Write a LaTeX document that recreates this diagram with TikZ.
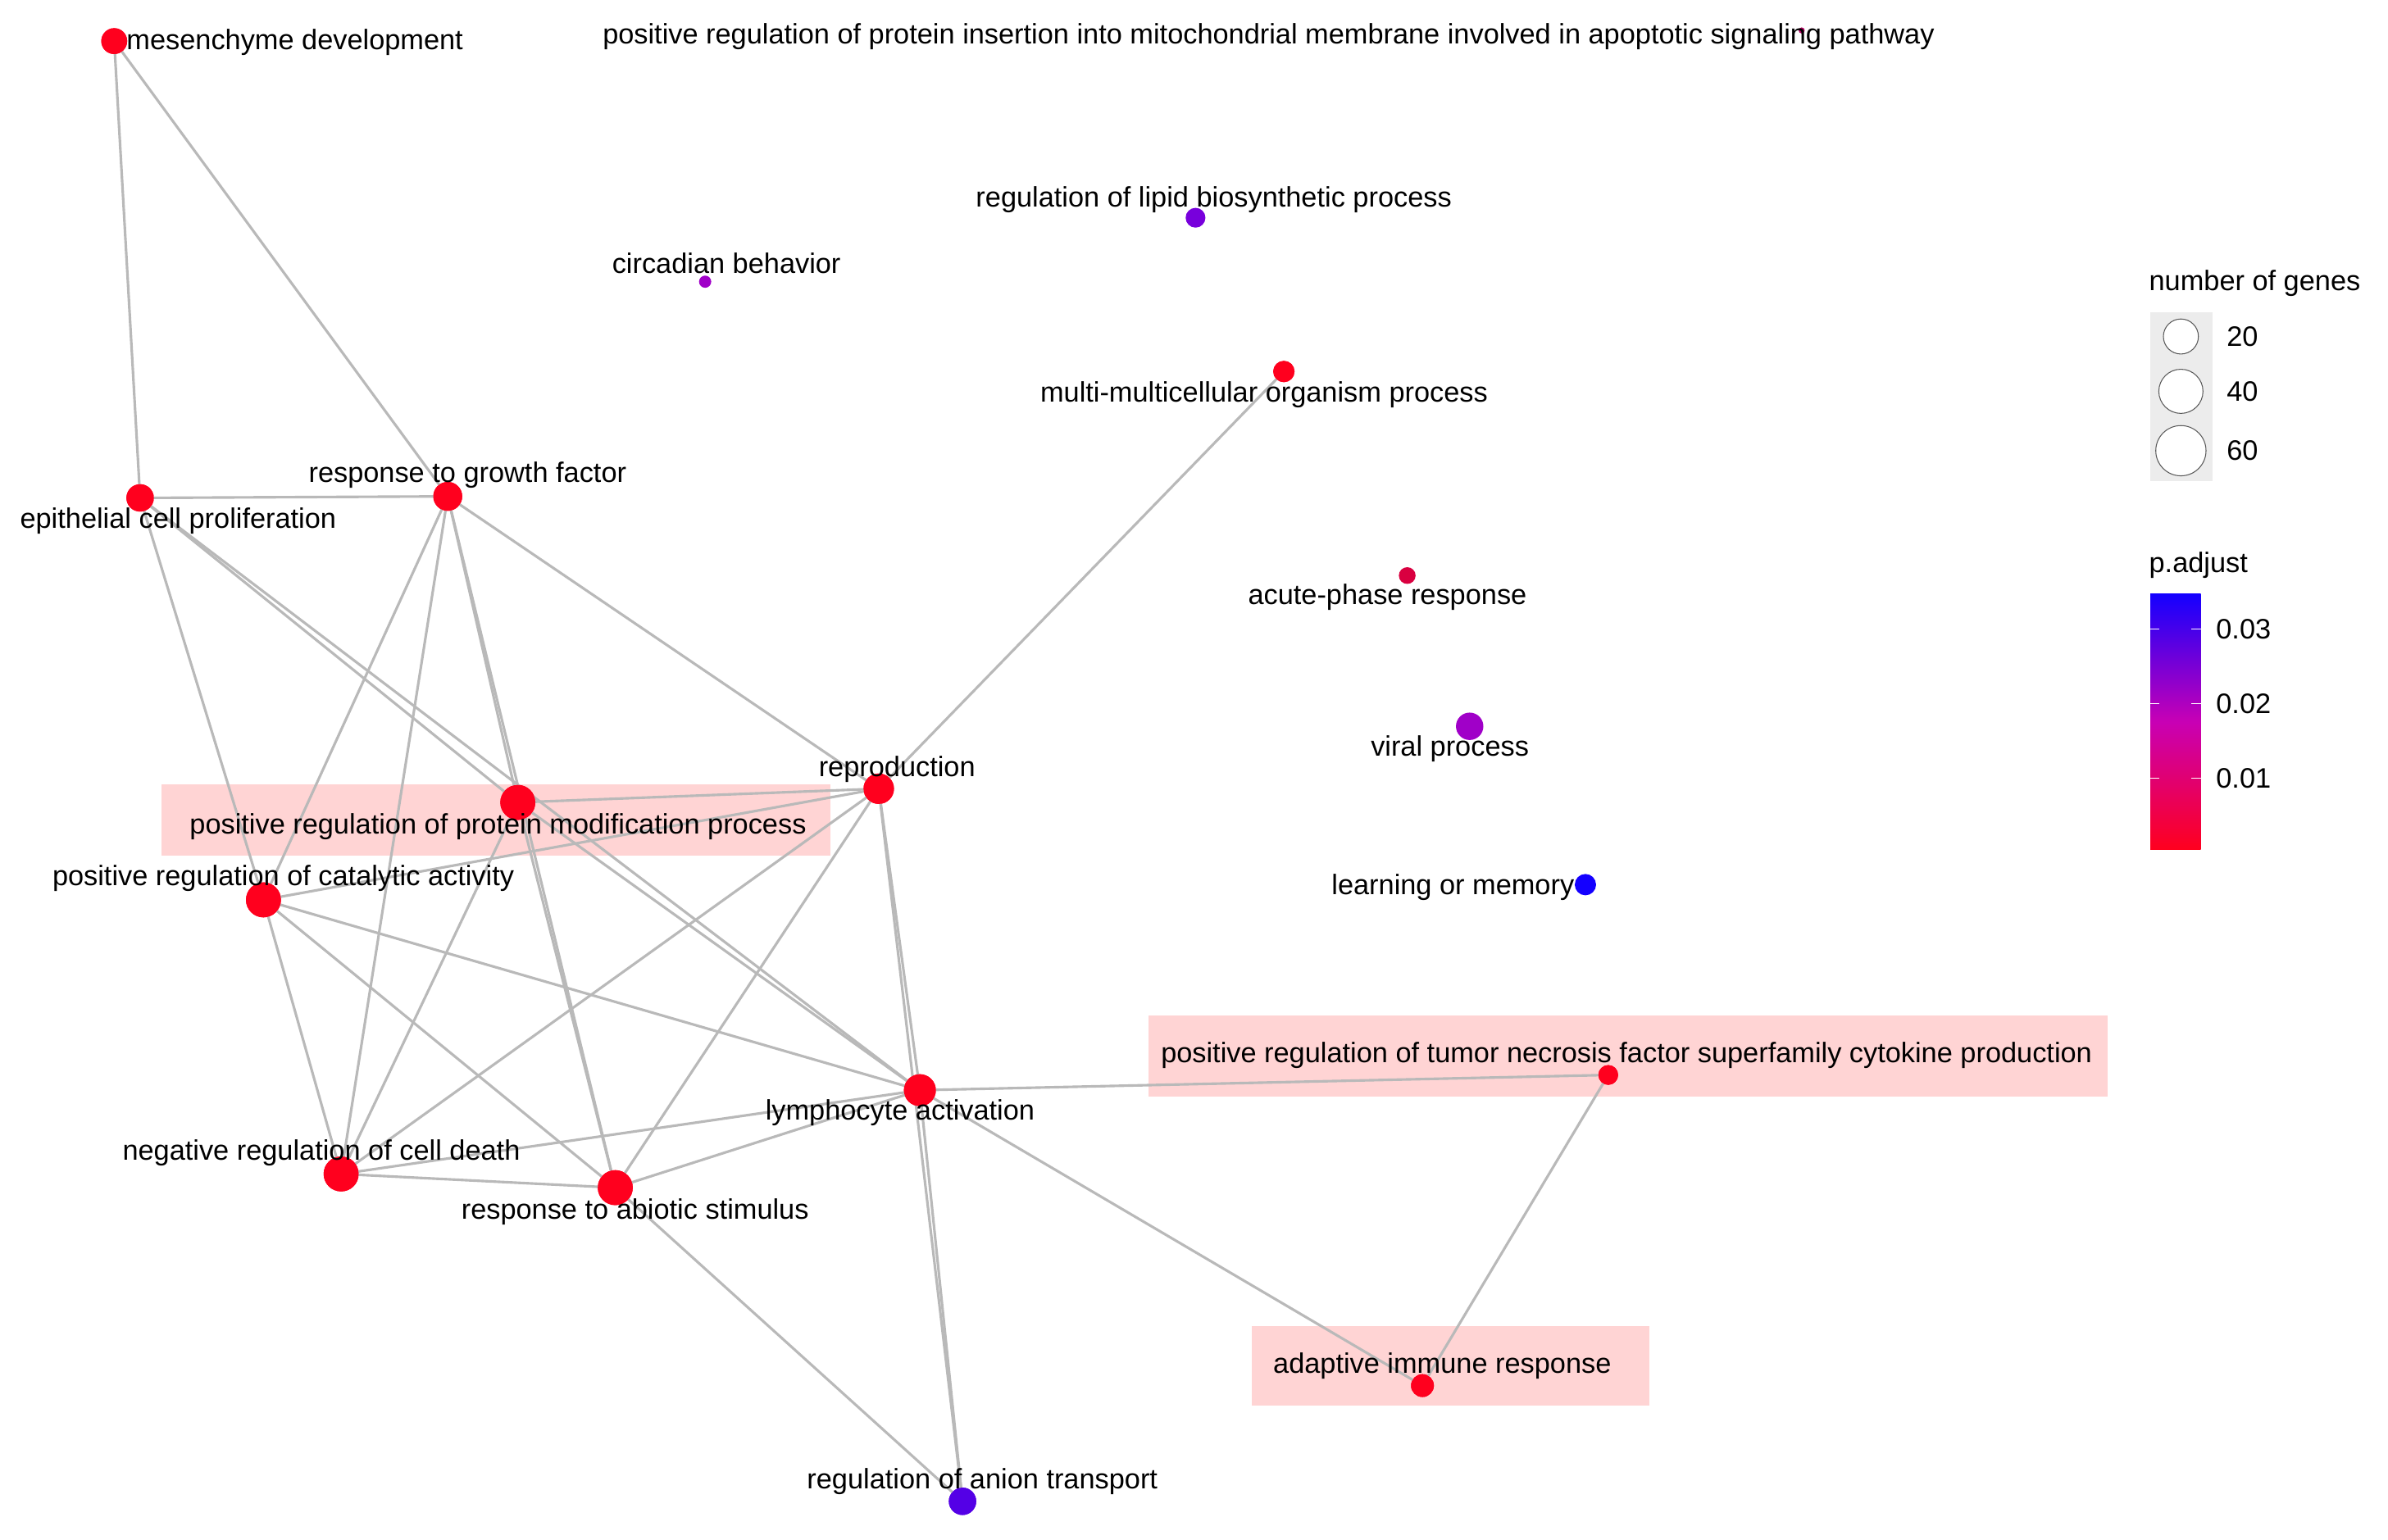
\documentclass[tikz,border=0pt]{standalone}
\usepackage{fontspec}
\setmainfont{Liberation Sans}
\begin{document}
\begin{tikzpicture}[x=0.05cm,y=-0.05cm,
  lab/.style={font=\fontsize{26.3}{30}\selectfont,inner sep=0pt},
  nd/.style={circle,inner sep=0pt,minimum size=#1*0.05cm},
  ed/.style={draw=gray!55,line width=2.4pt},
  hl/.style={fill=red!17,draw=none}]
\useasboundingbox (0,0) rectangle (1568,1011);
\fill[white] (0,0) rectangle (1568,1011);
\definecolor{pR}{RGB}{255,0,30}
\definecolor{pM}{RGB}{160,0,200}
\definecolor{pP}{RGB}{120,0,220}
\definecolor{pB}{RGB}{20,0,255}
\definecolor{pK}{RGB}{200,0,180}
% highlight boxes
\fill[hl] (106,515) rectangle (545,562);
\fill[hl] (754,667) rectangle (1384,720);
\fill[hl] (822,871) rectangle (1083,923);
% nodes
\node[nd=17,fill=pR] (mes) at (75,27) {};
\node[nd=4,fill=pR!70!blue] (ins) at (1183,20) {};
\node[nd=13,fill=pP] (lip) at (785,143) {};
\node[nd=8,fill=pM] (cir) at (463,185) {};
\node[nd=14,fill=pR] (mul) at (843,244) {};
\node[nd=19,fill=pR] (gro) at (294,326) {};
\node[nd=18,fill=pR] (epi) at (92,327) {};
\node[nd=11,fill=pR!85!blue] (acu) at (924,378) {};
\node[nd=18,fill=pM] (vir) at (965,477) {};
\node[nd=20,fill=pR] (rep) at (577,518) {};
\node[nd=23,fill=pR] (pmo) at (340,527) {};
\node[nd=23,fill=pR] (cat) at (173,591) {};
\node[nd=14,fill=pB] (lea) at (1041,581) {};
\node[nd=13,fill=pR] (tnf) at (1056,706) {};
\node[nd=21,fill=pR] (lym) at (604,716) {};
\node[nd=23,fill=pR] (neg) at (224,771) {};
\node[nd=23,fill=pR] (abi) at (404,780) {};
\node[nd=15,fill=pR] (ada) at (934,910) {};
\node[nd=18,fill=pP!70!blue] (ani) at (632,986) {};
% edges
\foreach \a/\b in {mes/epi,mes/gro,epi/gro,epi/pmo,epi/cat,epi/lym,gro/rep,gro/pmo,gro/abi,gro/cat,gro/neg,
  rep/mul,rep/pmo,rep/cat,rep/neg,rep/abi,rep/lym,rep/ani,pmo/abi,pmo/lym,pmo/neg,cat/neg,cat/abi,cat/lym,
  neg/abi,neg/lym,abi/lym,abi/ani,lym/ani,lym/tnf,lym/ada,tnf/ada}
  \draw[ed] (\a.center) -- (\b.center);
% redraw nodes over edges
\foreach \n/\s in {mes/17,gro/19,epi/18,rep/20,pmo/23,cat/23,tnf/13,lym/21,neg/23,abi/23,ada/15,mul/14}
  \node[nd=\s,fill=pR] at (\n) {};
\node[nd=18,fill=pP!70!blue] at (ani) {};
% labels
\node[lab,anchor=west] at (83,28) {mesenchyme development};
\node[lab] at (833,24) {positive regulation of protein insertion into mitochondrial membrane involved in apoptotic signaling pathway};
\node[lab] at (797,131) {regulation of lipid biosynthetic process};
\node[lab] at (477,173) {circadian behavior};
\node[lab] at (830,259) {multi-multicellular organism process};
\node[lab] at (307,312) {response to growth factor};
\node[lab] at (117,342) {epithelial cell proliferation};
\node[lab] at (911,392) {acute-phase response};
\node[lab] at (952,492) {viral process};
\node[lab] at (589,505) {reproduction};
\node[lab] at (327,543) {positive regulation of protein modification process};
\node[lab] at (186,577) {positive regulation of catalytic activity};
\node[lab] at (954,583) {learning or memory};
\node[lab] at (1068,693) {positive regulation of tumor necrosis factor superfamily cytokine production};
\node[lab] at (591,731) {lymphocyte activation};
\node[lab] at (211,757) {negative regulation of cell death};
\node[lab] at (417,796) {response to abiotic stimulus};
\node[lab] at (947,897) {adaptive immune response};
\node[lab] at (645,973) {regulation of anion transport};
% legend sizes
\node[lab,anchor=west] (lg1) at (1411,186) {number of genes};
\fill[gray!15] (1412,205) rectangle (1453,316);
\node[nd=23,draw=gray!70!black,fill=white,line width=0.8pt] (s1) at (1432,221) {};
\node[nd=29,draw=gray!70!black,fill=white,line width=0.8pt] (s2) at (1432,257) {};
\node[nd=33,draw=gray!70!black,fill=white,line width=0.8pt] (s3) at (1432,296) {};
\node[lab,anchor=west] at (1462,221) {20};
\node[lab,anchor=west] at (1462,257) {40};
\node[lab,anchor=west] at (1462,296) {60};
% legend colour
\node[lab,anchor=west] at (1411,371) {p.adjust};
\shade[top color=pB,bottom color=pR,middle color=pK] (1412,390) rectangle (1445,558);
\foreach \y/\t in {413/0.03,462/0.02,511/0.01}{
  \draw[white,line width=1pt] (1412,\y) -- (1418,\y) (1439,\y) -- (1445,\y);
  \node[lab,anchor=west] at (1455,\y) {\t};}
\end{tikzpicture}
\end{document}
